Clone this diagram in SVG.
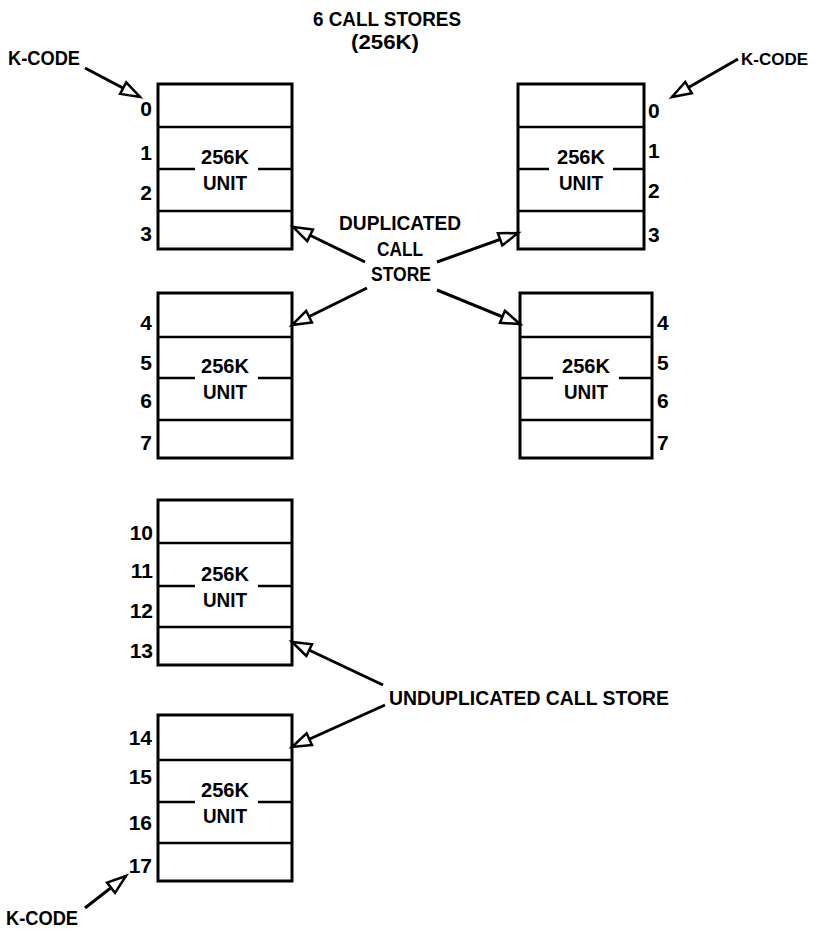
<svg xmlns="http://www.w3.org/2000/svg" width="815" height="930" viewBox="0 0 815 930">
<style>
text{font-family:"Liberation Sans",Arial,sans-serif;font-weight:bold;font-size:21px;fill:#000}
.m{text-anchor:middle}
.e{text-anchor:end}
.box{fill:#fff;stroke:#000;stroke-width:3}
.row{stroke:#000;stroke-width:2.5;fill:none}
.arr{stroke:#000;stroke-width:3;fill:none;marker-end:url(#ah)}
</style>
<defs>
<marker id="ah" markerUnits="userSpaceOnUse" markerWidth="26" markerHeight="18" viewBox="0 0 26 18" refX="22" refY="9" orient="auto" overflow="visible">
<path d="M3,2.5 L22,9 L3,15.5 Z" fill="#fff" stroke="#000" stroke-width="2.5" stroke-linejoin="miter"/>
</marker>
</defs>
<rect width="815" height="930" fill="#fff"/>

<g id="title">
<text class="m" x="387" y="26" textLength="148" lengthAdjust="spacingAndGlyphs">6 CALL STORES</text>
<text class="m" x="385" y="49" textLength="68" lengthAdjust="spacingAndGlyphs">(256K)</text>
</g>

<g id="kcode-tl"><text x="8" y="65" textLength="72" lengthAdjust="spacingAndGlyphs">K-CODE</text></g>
<g id="kcode-tr"><text x="741" y="65" style="font-size:17px">K-CODE</text></g>
<g id="kcode-bl"><text x="6" y="925" textLength="72" lengthAdjust="spacingAndGlyphs">K-CODE</text></g>

<g id="store-0-3">
<rect class="box" x="158" y="84" width="134" height="165"/>
<path class="row" d="M158,127H292M158,169H195M258,169H292M158,211H292"/>
<text class="m" x="225" y="164" textLength="48" lengthAdjust="spacingAndGlyphs">256K</text>
<text class="m" x="225" y="190" textLength="44" lengthAdjust="spacingAndGlyphs">UNIT</text>
<text class="e" x="152" y="116">0</text>
<text class="e" x="152" y="160">1</text>
<text class="e" x="152" y="200">2</text>
<text class="e" x="152" y="241">3</text>
</g>

<g id="store-0-3-dup">
<rect class="box" x="518" y="84" width="126" height="165"/>
<path class="row" d="M518,127H644M518,169H549M613,169H644M518,211H644"/>
<text class="m" x="581" y="164" textLength="48" lengthAdjust="spacingAndGlyphs">256K</text>
<text class="m" x="581" y="190" textLength="44" lengthAdjust="spacingAndGlyphs">UNIT</text>
<text x="648" y="118">0</text>
<text x="648" y="158">1</text>
<text x="648" y="198">2</text>
<text x="648" y="242">3</text>
</g>

<g id="store-4-7">
<rect class="box" x="158" y="293" width="134" height="165"/>
<path class="row" d="M158,337H292M158,378H195M258,378H292M158,420H292"/>
<text class="m" x="225" y="373" textLength="48" lengthAdjust="spacingAndGlyphs">256K</text>
<text class="m" x="225" y="399" textLength="44" lengthAdjust="spacingAndGlyphs">UNIT</text>
<text class="e" x="152" y="330">4</text>
<text class="e" x="152" y="370">5</text>
<text class="e" x="152" y="408">6</text>
<text class="e" x="152" y="450">7</text>
</g>

<g id="store-4-7-dup">
<rect class="box" x="520" y="293" width="132" height="165"/>
<path class="row" d="M520,337H652M520,378H553M619,378H652M520,420H652"/>
<text class="m" x="586" y="373" textLength="48" lengthAdjust="spacingAndGlyphs">256K</text>
<text class="m" x="586" y="399" textLength="44" lengthAdjust="spacingAndGlyphs">UNIT</text>
<text x="657" y="330">4</text>
<text x="657" y="370">5</text>
<text x="657" y="408">6</text>
<text x="657" y="450">7</text>
</g>

<g id="store-10-13">
<rect class="box" x="158" y="500" width="134" height="165"/>
<path class="row" d="M158,543H292M158,586H195M258,586H292M158,627H292"/>
<text class="m" x="225" y="581" textLength="48" lengthAdjust="spacingAndGlyphs">256K</text>
<text class="m" x="225" y="607" textLength="44" lengthAdjust="spacingAndGlyphs">UNIT</text>
<text class="e" x="153" y="540">10</text>
<text class="e" x="153" y="578">11</text>
<text class="e" x="153" y="618">12</text>
<text class="e" x="153" y="658">13</text>
</g>

<g id="store-14-17">
<rect class="box" x="158" y="715" width="134" height="166"/>
<path class="row" d="M158,760H292M158,802H195M258,802H292M158,843H292"/>
<text class="m" x="225" y="797" textLength="48" lengthAdjust="spacingAndGlyphs">256K</text>
<text class="m" x="225" y="823" textLength="44" lengthAdjust="spacingAndGlyphs">UNIT</text>
<text class="e" x="152" y="745">14</text>
<text class="e" x="152" y="784">15</text>
<text class="e" x="152" y="830">16</text>
<text class="e" x="152" y="873">17</text>
</g>

<g id="dup-label">
<text class="m" x="400" y="230" textLength="122" lengthAdjust="spacingAndGlyphs">DUPLICATED</text>
<text class="m" x="400" y="256" textLength="46" lengthAdjust="spacingAndGlyphs">CALL</text>
<text class="m" x="401" y="281" textLength="60" lengthAdjust="spacingAndGlyphs">STORE</text>
</g>

<g id="undup-label">
<text x="389" y="705" textLength="280" lengthAdjust="spacingAndGlyphs">UNDUPLICATED CALL STORE</text>
</g>

<g id="connectors">
<line class="arr" x1="85" y1="68" x2="140" y2="97"/>
<line class="arr" x1="738" y1="59" x2="672" y2="97"/>
<line class="arr" x1="365" y1="262" x2="293" y2="227"/>
<line class="arr" x1="437" y1="262" x2="518" y2="233"/>
<line class="arr" x1="367" y1="288" x2="292" y2="325"/>
<line class="arr" x1="437" y1="290" x2="520" y2="324"/>
<line class="arr" x1="383" y1="685" x2="292" y2="642"/>
<line class="arr" x1="385" y1="705" x2="292" y2="747"/>
<line class="arr" x1="85" y1="908" x2="126" y2="876"/>
</g>
</svg>
